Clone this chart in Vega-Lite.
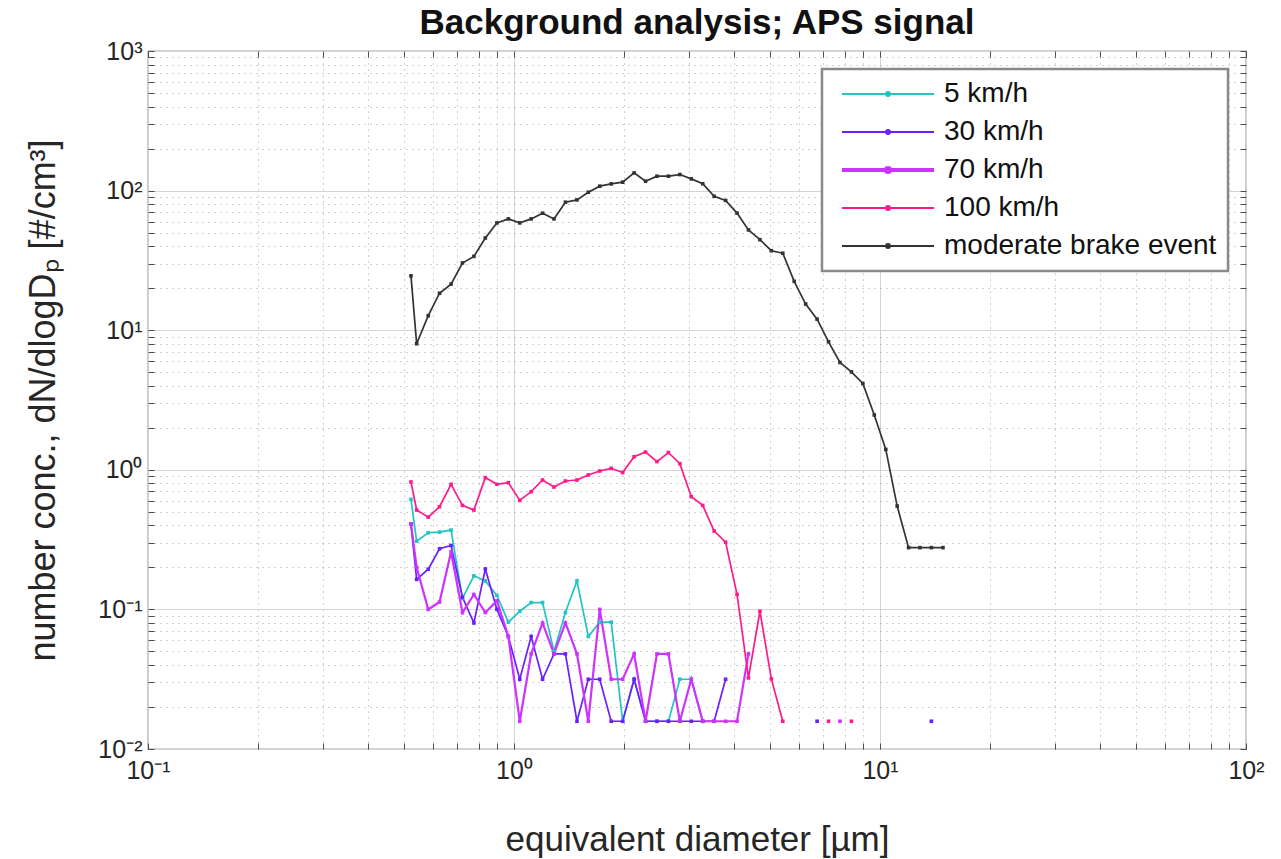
{
  "$schema": "https://vega.github.io/schema/vega-lite/v6.json",
  "autosize": {"type": "none"},
  "width": 1098,
  "height": 698,
  "padding": {"left": 148, "top": 51, "right": 35, "bottom": 110},
  "background": "white",
  "config": {
    "font": "Liberation Sans",
    "view": {"stroke": "#4d4d4d", "strokeWidth": 1.2},
    "axis": {"labelFont": "Liberation Sans", "titleFont": "Liberation Sans", "labelColor": "#262626", "titleColor": "#262626", "titleFontWeight": "normal", "domain": false}
  },
  "title": {"text": "Background analysis; APS signal", "fontSize": 35, "fontWeight": "bold", "font": "Liberation Sans", "color": "#111", "anchor": "middle", "offset": -2},
  "data": {"values": [
    {"s":"5 km/h","d":0.523,"v":0.614},{"s":"5 km/h","d":0.542,"v":0.308},{"s":"5 km/h","d":0.583,"v":0.354},{"s":"5 km/h","d":0.626,"v":0.358},{"s":"5 km/h","d":0.673,"v":0.37},{"s":"5 km/h","d":0.723,"v":0.12},{"s":"5 km/h","d":0.777,"v":0.174},{"s":"5 km/h","d":0.835,"v":0.16},{"s":"5 km/h","d":0.898,"v":0.126},{"s":"5 km/h","d":0.965,"v":0.081},{"s":"5 km/h","d":1.037,"v":0.097},{"s":"5 km/h","d":1.114,"v":0.112},{"s":"5 km/h","d":1.197,"v":0.112},{"s":"5 km/h","d":1.286,"v":0.05},{"s":"5 km/h","d":1.382,"v":0.095},{"s":"5 km/h","d":1.486,"v":0.16},{"s":"5 km/h","d":1.596,"v":0.064},{"s":"5 km/h","d":1.715,"v":0.081},{"s":"5 km/h","d":1.843,"v":0.081},{"s":"5 km/h","d":1.981,"v":0.0158},{"s":"5 km/h","d":2.129,"v":0.0316},{"s":"5 km/h","d":2.288,"v":0.0158},{"s":"5 km/h","d":2.458,"v":0.0158},{"s":"5 km/h","d":2.642,"v":0.0158},{"s":"5 km/h","d":2.839,"v":0.0316},{"s":"5 km/h","d":3.051,"v":0.0316},{"s":"5 km/h","d":3.278,"v":0.0158},

    {"s":"30 km/h","d":0.523,"v":0.41},{"s":"30 km/h","d":0.542,"v":0.164},{"s":"30 km/h","d":0.583,"v":0.194},{"s":"30 km/h","d":0.626,"v":0.272},{"s":"30 km/h","d":0.673,"v":0.287},{"s":"30 km/h","d":0.723,"v":0.122},{"s":"30 km/h","d":0.777,"v":0.08},{"s":"30 km/h","d":0.835,"v":0.195},{"s":"30 km/h","d":0.898,"v":0.1},{"s":"30 km/h","d":0.965,"v":0.064},{"s":"30 km/h","d":1.037,"v":0.0316},{"s":"30 km/h","d":1.114,"v":0.064},{"s":"30 km/h","d":1.197,"v":0.0316},{"s":"30 km/h","d":1.286,"v":0.048},{"s":"30 km/h","d":1.382,"v":0.048},{"s":"30 km/h","d":1.486,"v":0.0158},{"s":"30 km/h","d":1.596,"v":0.0316},{"s":"30 km/h","d":1.715,"v":0.0316},{"s":"30 km/h","d":1.843,"v":0.0158},{"s":"30 km/h","d":1.981,"v":0.0158},{"s":"30 km/h","d":2.129,"v":0.0316},{"s":"30 km/h","d":2.288,"v":0.0158},{"s":"30 km/h","d":2.458,"v":0.0158},{"s":"30 km/h","d":2.642,"v":0.0158},{"s":"30 km/h","d":2.839,"v":0.0158},{"s":"30 km/h","d":3.051,"v":0.0158},{"s":"30 km/h","d":3.278,"v":0.0158},{"s":"30 km/h","d":3.523,"v":0.0158},{"s":"30 km/h","d":3.786,"v":0.0316},{"s":"30 km/h","d":6.732,"v":0.0158,"g":"b"},{"s":"30 km/h","d":13.82,"v":0.0158,"g":"c"},

    {"s":"70 km/h","d":0.523,"v":0.41},{"s":"70 km/h","d":0.542,"v":0.2},{"s":"70 km/h","d":0.583,"v":0.1},{"s":"70 km/h","d":0.626,"v":0.113},{"s":"70 km/h","d":0.673,"v":0.258},{"s":"70 km/h","d":0.723,"v":0.095},{"s":"70 km/h","d":0.777,"v":0.128},{"s":"70 km/h","d":0.835,"v":0.095},{"s":"70 km/h","d":0.898,"v":0.115},{"s":"70 km/h","d":0.965,"v":0.064},{"s":"70 km/h","d":1.037,"v":0.0158},{"s":"70 km/h","d":1.114,"v":0.048},{"s":"70 km/h","d":1.197,"v":0.08},{"s":"70 km/h","d":1.286,"v":0.048},{"s":"70 km/h","d":1.382,"v":0.08},{"s":"70 km/h","d":1.486,"v":0.048},{"s":"70 km/h","d":1.596,"v":0.0158},{"s":"70 km/h","d":1.715,"v":0.1},{"s":"70 km/h","d":1.843,"v":0.0316},{"s":"70 km/h","d":1.981,"v":0.0316},{"s":"70 km/h","d":2.129,"v":0.048},{"s":"70 km/h","d":2.288,"v":0.0158},{"s":"70 km/h","d":2.458,"v":0.048},{"s":"70 km/h","d":2.642,"v":0.048},{"s":"70 km/h","d":2.839,"v":0.0158},{"s":"70 km/h","d":3.051,"v":0.0316},{"s":"70 km/h","d":3.278,"v":0.0158},{"s":"70 km/h","d":3.523,"v":0.0158},{"s":"70 km/h","d":3.786,"v":0.0158},{"s":"70 km/h","d":4.068,"v":0.0158},{"s":"70 km/h","d":4.371,"v":0.048},{"s":"70 km/h","d":7.774,"v":0.0158,"g":"b"},

    {"s":"100 km/h","d":0.523,"v":0.818},{"s":"100 km/h","d":0.542,"v":0.515},{"s":"100 km/h","d":0.583,"v":0.458},{"s":"100 km/h","d":0.626,"v":0.544},{"s":"100 km/h","d":0.673,"v":0.787},{"s":"100 km/h","d":0.723,"v":0.556},{"s":"100 km/h","d":0.777,"v":0.515},{"s":"100 km/h","d":0.835,"v":0.879},{"s":"100 km/h","d":0.898,"v":0.787},{"s":"100 km/h","d":0.965,"v":0.809},{"s":"100 km/h","d":1.037,"v":0.604},{"s":"100 km/h","d":1.114,"v":0.697},{"s":"100 km/h","d":1.197,"v":0.845},{"s":"100 km/h","d":1.286,"v":0.753},{"s":"100 km/h","d":1.382,"v":0.831},{"s":"100 km/h","d":1.486,"v":0.845},{"s":"100 km/h","d":1.596,"v":0.918},{"s":"100 km/h","d":1.715,"v":0.98},{"s":"100 km/h","d":1.843,"v":1.025},{"s":"100 km/h","d":1.981,"v":0.955},{"s":"100 km/h","d":2.129,"v":1.24},{"s":"100 km/h","d":2.288,"v":1.34},{"s":"100 km/h","d":2.458,"v":1.145},{"s":"100 km/h","d":2.642,"v":1.33},{"s":"100 km/h","d":2.839,"v":1.107},{"s":"100 km/h","d":3.051,"v":0.642},{"s":"100 km/h","d":3.278,"v":0.556},{"s":"100 km/h","d":3.523,"v":0.364},{"s":"100 km/h","d":3.786,"v":0.303},{"s":"100 km/h","d":4.068,"v":0.128},{"s":"100 km/h","d":4.371,"v":0.0323},{"s":"100 km/h","d":4.698,"v":0.097},{"s":"100 km/h","d":5.048,"v":0.0318},{"s":"100 km/h","d":5.425,"v":0.0158},{"s":"100 km/h","d":7.234,"v":0.0158,"g":"b"},{"s":"100 km/h","d":8.354,"v":0.0158,"g":"c"},

    {"s":"moderate brake event","d":0.523,"v":24.5},{"s":"moderate brake event","d":0.542,"v":8.0},{"s":"moderate brake event","d":0.583,"v":12.7},{"s":"moderate brake event","d":0.626,"v":18.4},{"s":"moderate brake event","d":0.673,"v":21.4},{"s":"moderate brake event","d":0.723,"v":30.3},{"s":"moderate brake event","d":0.777,"v":33.8},{"s":"moderate brake event","d":0.835,"v":45.8},{"s":"moderate brake event","d":0.898,"v":58.7},{"s":"moderate brake event","d":0.965,"v":62.7},{"s":"moderate brake event","d":1.037,"v":58.7},{"s":"moderate brake event","d":1.114,"v":62.7},{"s":"moderate brake event","d":1.197,"v":68.9},{"s":"moderate brake event","d":1.286,"v":62.7},{"s":"moderate brake event","d":1.382,"v":82.6},{"s":"moderate brake event","d":1.486,"v":85.8},{"s":"moderate brake event","d":1.596,"v":97.3},{"s":"moderate brake event","d":1.715,"v":107.6},{"s":"moderate brake event","d":1.843,"v":111.7},{"s":"moderate brake event","d":1.981,"v":114.9},{"s":"moderate brake event","d":2.129,"v":133.9},{"s":"moderate brake event","d":2.288,"v":116.8},{"s":"moderate brake event","d":2.458,"v":126.8},{"s":"moderate brake event","d":2.642,"v":126.8},{"s":"moderate brake event","d":2.839,"v":130.3},{"s":"moderate brake event","d":3.051,"v":121.3},{"s":"moderate brake event","d":3.278,"v":112},{"s":"moderate brake event","d":3.523,"v":91},{"s":"moderate brake event","d":3.786,"v":85},{"s":"moderate brake event","d":4.068,"v":69},{"s":"moderate brake event","d":4.371,"v":52.3},{"s":"moderate brake event","d":4.698,"v":44.5},{"s":"moderate brake event","d":5.048,"v":37.1},{"s":"moderate brake event","d":5.425,"v":35.6},{"s":"moderate brake event","d":5.829,"v":22.4},{"s":"moderate brake event","d":6.264,"v":15.4},{"s":"moderate brake event","d":6.732,"v":12.0},{"s":"moderate brake event","d":7.234,"v":8.26},{"s":"moderate brake event","d":7.774,"v":5.87},{"s":"moderate brake event","d":8.354,"v":5.03},{"s":"moderate brake event","d":8.977,"v":4.15},{"s":"moderate brake event","d":9.647,"v":2.47},{"s":"moderate brake event","d":10.37,"v":1.4},{"s":"moderate brake event","d":11.14,"v":0.55},{"s":"moderate brake event","d":11.97,"v":0.277},{"s":"moderate brake event","d":12.86,"v":0.277},{"s":"moderate brake event","d":13.82,"v":0.277},{"s":"moderate brake event","d":14.86,"v":0.277}
  ]},
  "layer": [
    {
      "mark": {"type": "line", "clip": true},
      "encoding": {
        "x": {"field": "d", "type": "quantitative",
          "scale": {"type": "log", "domain": [0.1, 100], "nice": false},
          "axis": {"orient": "bottom", "title": "equivalent diameter [µm]", "titleFontSize": 35, "titlePadding": 39,
            "values": [0.1,0.2,0.3,0.4,0.5,0.6,0.7,0.8,0.9,1,2,3,4,5,6,7,8,9,10,20,30,40,50,60,70,80,90,100],
            "labelExpr": "datum.value == 0.1 ? '10⁻¹' : datum.value == 1 ? '10⁰' : datum.value == 10 ? '10¹' : datum.value == 100 ? '10²' : ''",
            "labelFontSize": 25, "labelPadding": 15, "labelOverlap": false, "labelBound": false, "labelFlush": false,
            "ticks": true, "tickSize": -6, "tickColor": "#4d4d4d",
            "grid": true,
            "gridColor": {"condition": {"test": "datum.value == 0.1 || datum.value == 1 || datum.value == 10 || datum.value == 100", "value": "#d4d4d4"}, "value": "#a3a3a3"},
            "gridDash": {"condition": {"test": "datum.value == 0.1 || datum.value == 1 || datum.value == 10 || datum.value == 100", "value": []}, "value": [1, 5]}
          }},
        "y": {"field": "v", "type": "quantitative",
          "scale": {"type": "log", "domain": [0.01, 1000], "nice": false},
          "axis": {"orient": "left", "title": "number conc., dN/dlogDₚ [#/cm³]", "titleFontSize": 36, "titlePadding": 35,
            "values": [0.01,0.02,0.03,0.04,0.05,0.06,0.07,0.08,0.09,0.1,0.2,0.3,0.4,0.5,0.6,0.7,0.8,0.9,1,2,3,4,5,6,7,8,9,10,20,30,40,50,60,70,80,90,100,200,300,400,500,600,700,800,900,1000],
            "labelExpr": "datum.value == 0.01 ? '10⁻²' : datum.value == 0.1 ? '10⁻¹' : datum.value == 1 ? '10⁰' : datum.value == 10 ? '10¹' : datum.value == 100 ? '10²' : datum.value == 1000 ? '10³' : ''",
            "labelFontSize": 25, "labelPadding": 12, "labelOverlap": false, "labelBound": false, "labelFlush": false,
            "ticks": true, "tickSize": -6, "tickColor": "#4d4d4d",
            "grid": true,
            "gridColor": {"condition": {"test": "datum.value == 0.01 || datum.value == 0.1 || datum.value == 1 || datum.value == 10 || datum.value == 100 || datum.value == 1000", "value": "#d4d4d4"}, "value": "#a3a3a3"},
            "gridDash": {"condition": {"test": "datum.value == 0.01 || datum.value == 0.1 || datum.value == 1 || datum.value == 10 || datum.value == 100 || datum.value == 1000", "value": []}, "value": [1, 5]}
          }},
        "color": {"field": "s", "type": "nominal",
          "scale": {"domain": ["5 km/h", "30 km/h", "70 km/h", "100 km/h", "moderate brake event"], "range": ["#22c4c4", "#6a1fff", "#cc33ff", "#ff1a8c", "#333333"]},
          "legend": {"orient": "top-right", "offset": 18, "title": null,
            "symbolType": "M-1,0H1M0.045,0A0.045,0.045,0,1,1,-0.045,0A0.045,0.045,0,1,1,0.045,0Z",
            "symbolSize": 8464, "symbolOffset": 41, "labelFontSize": 28, "labelFont": "Liberation Sans", "labelColor": "#111", "labelOffset": 42, "labelLimit": 500,
            "padding": 11, "rowPadding": 10, "fillColor": "white", "strokeColor": "#8a8a8a",
            "encode": {
              "symbols": {"update": {"fill": {"signal": "scale('color', datum.value)"}, "stroke": {"signal": "scale('color', datum.value)"}, "opacity": {"value": 1}, "fillOpacity": {"value": 1},
                "strokeWidth": {"signal": "datum.value === '70 km/h' ? 4 : 1.8"}}},
              "legend": {"update": {"strokeWidth": {"value": 2.5}}}
            }},
          "sort": null},
        "detail": {"field": "g", "type": "nominal"},
        "order": {"field": "d", "type": "quantitative"},
        "strokeWidth": {"condition": {"test": "datum.s === '70 km/h'", "value": 2.2}, "value": 1.7}
      }
    },
    {
      "mark": {"type": "point", "filled": true, "shape": "square", "size": 13, "opacity": 1, "clip": true},
      "encoding": {
        "x": {"field": "d", "type": "quantitative", "scale": {"type": "log", "domain": [0.1, 100], "nice": false},
          "axis": {"orient": "top", "title": null, "labels": false, "grid": false, "ticks": true, "tickSize": -6, "tickColor": "#4d4d4d",
            "values": [0.1,0.2,0.3,0.4,0.5,0.6,0.7,0.8,0.9,1,2,3,4,5,6,7,8,9,10,20,30,40,50,60,70,80,90,100]}},
        "y": {"field": "v", "type": "quantitative", "scale": {"type": "log", "domain": [0.01, 1000], "nice": false},
          "axis": {"orient": "right", "title": null, "labels": false, "grid": false, "ticks": true, "tickSize": -6, "tickColor": "#4d4d4d",
            "values": [0.01,0.02,0.03,0.04,0.05,0.06,0.07,0.08,0.09,0.1,0.2,0.3,0.4,0.5,0.6,0.7,0.8,0.9,1,2,3,4,5,6,7,8,9,10,20,30,40,50,60,70,80,90,100,200,300,400,500,600,700,800,900,1000]}},
        "color": {"field": "s", "type": "nominal", "scale": {"domain": ["5 km/h", "30 km/h", "70 km/h", "100 km/h", "moderate brake event"], "range": ["#22c4c4", "#6a1fff", "#cc33ff", "#ff1a8c", "#333333"]}}
      }
    }
  ]
}
